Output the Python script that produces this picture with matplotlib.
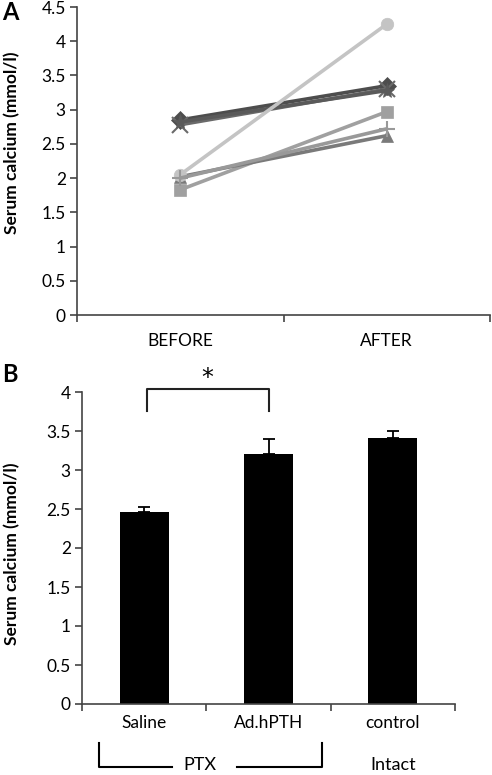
import matplotlib
matplotlib.use('Agg')
import matplotlib.pyplot as plt
import matplotlib.transforms as mtransforms

plt.rcParams['font.family'] = ['Lato', 'DejaVu Sans']
plt.rcParams['font.size'] = 12

# Panel A: individual animals, before vs after
timepoints = ['BEFORE', 'AFTER']
animal_before = [2.85, 1.83, 2.02, 2.78, 2.82, 2.05, 2.00]
animal_after = [3.35, 2.97, 2.62, 3.30, 3.28, 4.25, 2.72]
animal_markers = ['D', 's', '^', 'x', '*', 'o', '+']
animal_colors = ['#4d4d4d', '#a0a0a0', '#7a7a7a', '#6a6a6a', '#5a5a5a', '#c4c4c4', '#999999']

# Panel B: group means
groups = ['Saline', 'Ad.hPTH', 'control']
group_means = [2.46, 3.21, 3.41]
group_err = [0.06, 0.19, 0.09]

W, H = 492, 775
fig = plt.figure(figsize=(W / 100, H / 100), dpi=100)

def fx(px):
    return px / W

def fy(py):
    return 1 - py / H

axis_col = '#444444'
tick_fs = 12.5
lab_fs = 12.5

# ---------- Panel A ----------
axA = fig.add_axes([fx(77), fy(315), fx(490) - fx(77), fy(7) - fy(315)])
xa = range(len(timepoints))
for b, a, m, c in zip(animal_before, animal_after, animal_markers, animal_colors):
    ms = 9 if m not in ('x', '+', '*') else 11
    axA.plot(xa, [b, a], color=c, lw=2.6, marker=m, markersize=ms,
             markeredgewidth=1.5 if m in ('x', '+') else 0.5, markeredgecolor=c,
             markerfacecolor=c, solid_capstyle='round')
axA.set_xlim(-0.5, 1.5)
axA.set_ylim(0, 4.5)
axA.set_yticks([0, 0.5, 1, 1.5, 2, 2.5, 3, 3.5, 4, 4.5])
axA.set_yticklabels(['0', '0.5', '1', '1.5', '2', '2.5', '3', '3.5', '4', '4.5'])
axA.set_xticks(list(xa))
axA.set_xticklabels(timepoints)
axA.set_xticks([-0.5, 0.5, 1.5], minor=True)
axA.tick_params(axis='x', which='major', length=0, pad=13, labelsize=tick_fs)
axA.tick_params(axis='x', which='minor', length=5, width=1.2, color=axis_col)
axA.tick_params(axis='y', length=5, width=1.2, color=axis_col, labelsize=tick_fs, pad=3)
axA.set_ylabel('Serum calcium (mmol/l)', fontweight='bold', fontsize=lab_fs)
axA.yaxis.set_label_coords(-0.138, 0.56)
for s in ['top', 'right']:
    axA.spines[s].set_visible(False)
for s in ['left', 'bottom']:
    axA.spines[s].set_color(axis_col)
    axA.spines[s].set_linewidth(1.2)
fig.text(fx(2), fy(12), 'A', fontsize=17, fontweight='bold', ha='left', va='center')

# ---------- Panel B ----------
axB = fig.add_axes([fx(82), fy(704), fx(455) - fx(82), fy(392) - fy(704)])
xb = range(len(groups))
axB.bar(xb, group_means, width=0.395, color='black',
        yerr=[[0] * len(group_err), group_err],
        error_kw=dict(ecolor='black', elinewidth=1.3, capsize=4, capthick=1.3))
axB.set_xlim(-0.5, 2.5)
axB.set_ylim(0, 4)
axB.set_yticks([0, 0.5, 1, 1.5, 2, 2.5, 3, 3.5, 4])
axB.set_yticklabels(['0', '0.5', '1', '1.5', '2', '2.5', '3', '3.5', '4'])
axB.set_xticks(list(xb))
axB.set_xticklabels(groups)
axB.set_xticks([-0.5, 0.5, 1.5, 2.5], minor=True)
axB.tick_params(axis='x', which='major', length=0, pad=8, labelsize=tick_fs)
axB.tick_params(axis='x', which='minor', length=5, width=1.2, color=axis_col)
axB.tick_params(axis='y', length=5, width=1.2, color=axis_col, labelsize=tick_fs, pad=3)
axB.set_ylabel('Serum calcium (mmol/l)', fontweight='bold', fontsize=lab_fs)
axB.yaxis.set_label_coords(-0.166, 0.48)
for s in ['top', 'right']:
    axB.spines[s].set_visible(False)
for s in ['left', 'bottom']:
    axB.spines[s].set_color(axis_col)
    axB.spines[s].set_linewidth(1.2)
fig.text(fx(2), fy(374), 'B', fontsize=17, fontweight='bold', ha='left', va='center')

# significance bracket
axB.plot([0.02, 0.02, 1.0, 1.0], [3.76, 4.04, 4.04, 3.76], color='#222222', lw=1.5, clip_on=False)
axB.text(0.51, 4.18, '*', ha='center', va='center', fontsize=17, family='DejaVu Sans')

# group bracket below the axis
tr = mtransforms.blended_transform_factory(axB.transData, fig.transFigure)
axB.plot([-0.363, -0.363, 0.224], [fy(743), fy(767), fy(767)], color='black', lw=1.5,
         transform=tr, clip_on=False)
axB.plot([0.747, 1.431, 1.431], [fy(767), fy(767), fy(743)], color='black', lw=1.5,
         transform=tr, clip_on=False)
axB.text(0.449, fy(765), 'PTX', transform=tr, ha='center', va='center', fontsize=13)
axB.text(2.0, fy(765), 'Intact', transform=tr, ha='center', va='center', fontsize=13)

plt.savefig('out.png', dpi=100)
